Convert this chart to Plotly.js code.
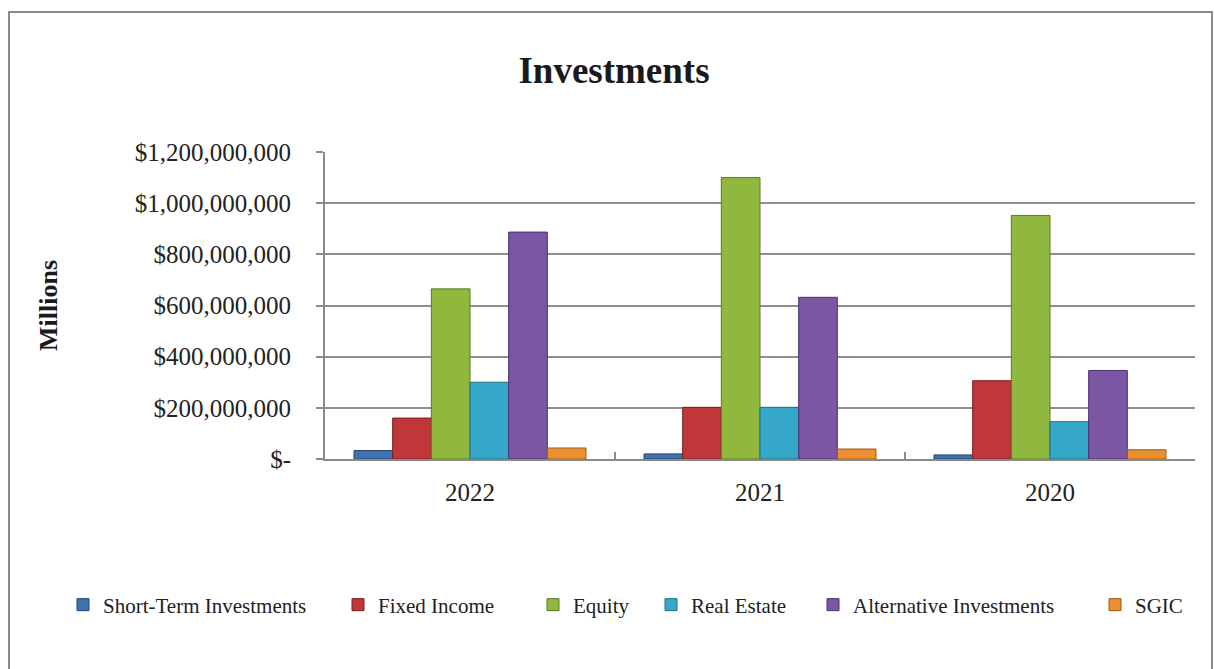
<!DOCTYPE html>
<html>
<head>
<meta charset="utf-8">
<script src="https://cdn.plot.ly/plotly-3.0.1.min.js"></script>
<style>
html,body{margin:0;padding:0;background:#fff;}
#chart{width:1214px;height:669px;}
</style>
</head>
<body>
<div id="chart"></div>
<script>
const years = ["2022", "2021", "2020"];
const seriesNames = ["Short-Term Investments", "Fixed Income", "Equity", "Real Estate", "Alternative Investments", "SGIC"];
const shortTerm = [33000000, 20000000, 16000000];
const fixedIncome = [160000000, 202000000, 306000000];
const equity = [665000000, 1100000000, 952000000];
const realEstate = [300000000, 202000000, 146000000];
const alternative = [887000000, 632000000, 346000000];
const sgic = [43000000, 39000000, 36000000];
const yTickVals = [0, 200000000, 400000000, 600000000, 800000000, 1000000000, 1200000000];
const yTickText = ["$-", "$200,000,000", "$400,000,000", "$600,000,000", "$800,000,000", "$1,000,000,000", "$1,200,000,000"];

const allValues = [shortTerm, fixedIncome, equity, realEstate, alternative, sgic];
const fills = ["#3f72b0", "#c0363a", "#90b83e", "#35a8c9", "#7a56a3", "#eb9030"];
const edges = ["#22456f", "#7a1e1e", "#5c7a22", "#1f6f88", "#4a3070", "#9a5a18"];
const legendIds = ["legend", "legend2", "legend3", "legend4", "legend5", "legend6"];

const L = 325, R = 1195, T = 152, B = 459;
const pw = R - L, ph = B - T;
const legendTextStarts = [101, 376, 571, 689, 851, 1133];

const traces = allValues.map((vals, i) => ({
  type: "bar",
  name: seriesNames[i],
  x: years,
  y: vals,
  marker: {color: fills[i], line: {color: edges[i], width: 1}},
  legend: legendIds[i],
  hoverinfo: "x+y+name"
}));

const layout = {
  width: 1214,
  height: 669,
  margin: {l: L, r: 1214 - R, t: T, b: 669 - B},
  paper_bgcolor: "#ffffff",
  plot_bgcolor: "#ffffff",
  font: {family: "Liberation Serif, Times New Roman, serif", color: "#222"},
  title: {
    text: "<b>Investments</b>",
    font: {family: "Liberation Serif, serif", size: 37, color: "#1a1a1a"},
    x: 614 / 1214, xref: "container", xanchor: "center",
    y: 1 - 70 / 669, yref: "container", yanchor: "middle"
  },
  barmode: "group",
  bargap: 0.2,
  bargroupgap: 0,
  xaxis: {
    type: "category",
    showline: true, linecolor: "#8a8a8a", linewidth: 2,
    ticks: "inside", ticklen: 7, tickcolor: "#8a8a8a", tickwidth: 2,
    tickson: "boundaries",
    showgrid: false,
    tickfont: {size: 25, color: "#222"},
    ticklabelstandoff: 10,
    zeroline: false, fixedrange: true, automargin: false
  },
  yaxis: {
    range: [0, 1200000000],
    tickvals: yTickVals,
    ticktext: yTickText,
    showline: true, linecolor: "#8a8a8a", linewidth: 2,
    ticks: "outside", ticklen: 7, tickcolor: "#8a8a8a", tickwidth: 2,
    showgrid: true, gridcolor: "#8f8f8f", gridwidth: 2,
    zeroline: false,
    tickfont: {size: 25, color: "#222"},
    ticklabelstandoff: 20,
    title: {text: "<b>Millions</b>", font: {size: 26, color: "#1a1a1a"}, standoff: 70},
    automargin: true,
    fixedrange: true
  },
  shapes: [{
    type: "rect", xref: "paper", yref: "paper",
    x0: (9 - L) / pw, x1: (1212 - L) / pw,
    y0: (B - 700) / ph, y1: (B - 12) / ph,
    line: {color: "#8a8a8a", width: 2}, fillcolor: "rgba(0,0,0,0)", layer: "below"
  }],
  showlegend: true
};

legendIds.forEach((id, i) => {
  layout[id] = {
    orientation: "h",
    x: (legendTextStarts[i] - 38 - L) / pw,
    xanchor: "left",
    y: (B - 605) / ph,
    yanchor: "middle",
    font: {size: 21, color: "#222"},
    bgcolor: "rgba(0,0,0,0)",
    itemwidth: 30,
    itemclick: false, itemdoubleclick: false
  };
});

Plotly.newPlot("chart", traces, layout, {displayModeBar: false});
</script>
</body>
</html>
